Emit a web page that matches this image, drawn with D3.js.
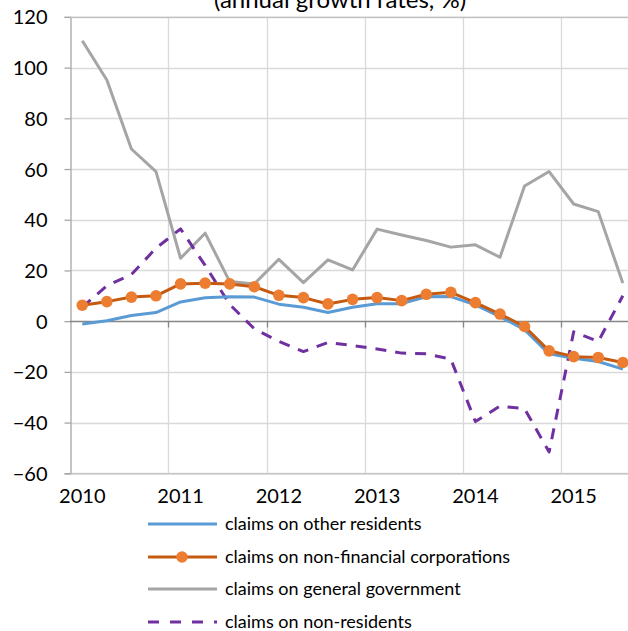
<!DOCTYPE html>
<html><head><meta charset="utf-8">
<script src="https://cdn.jsdelivr.net/npm/d3@7"></script>
<style>html,body{margin:0;padding:0;background:#fff;overflow:hidden}</style>
</head><body>
<svg id="chart" width="628" height="631"></svg>
<script>
const quarters = ["2010Q1","2010Q2","2010Q3","2010Q4","2011Q1","2011Q2","2011Q3","2011Q4","2012Q1","2012Q2","2012Q3","2012Q4","2013Q1","2013Q2","2013Q3","2013Q4","2014Q1","2014Q2","2014Q3","2014Q4","2015Q1","2015Q2","2015Q3"];
const yearLabels = ["2010","2011","2012","2013","2014","2015"];
const yTicks = [-60,-40,-20,0,20,40,60,80,100,120];
const otherResidents = [-1.1,0.2,2.2,3.4,7.6,9.2,9.6,9.5,6.7,5.5,3.4,5.5,6.9,6.9,9.6,9.7,6.4,1.8,-3.4,-12.9,-14.6,-15.9,-18.9];
const nonFinCorp = [6.3,7.7,9.5,10.0,14.7,15.0,14.7,13.6,10.2,9.3,6.8,8.6,9.3,8.1,10.6,11.4,7.3,2.8,-2.1,-11.7,-14.0,-14.3,-16.3];
const generalGov = [110.6,95.1,67.9,59.0,24.8,34.7,15.6,14.7,24.4,15.2,24.2,20.2,36.3,34.0,31.8,29.2,30.1,25.2,53.3,59.0,46.2,43.2,15.0];
const nonResidents = [5.5,14.0,18.4,28.8,36.4,22.0,6.6,-3.0,-8.0,-12.0,-8.4,-9.6,-11.0,-12.6,-12.9,-15.0,-39.6,-33.5,-34.5,-51.6,-4.2,-8.0,10.0];
const seriesNames = ["claims on other residents","claims on non-financial corporations","claims on general government","claims on non-residents"];
const titleText = "(annual growth rates, %)";

const svg = d3.select("#chart");
const font = "Lato, 'Open Sans', sans-serif";
const left = 70, step = 24.57;
const x = d3.scaleBand().domain(d3.range(quarters.length)).range([left, left + step*quarters.length]).padding(0);
const cx = i => x(i) + x.bandwidth()/2;
const y = d3.scaleLinear().domain([-60,120]).range([473.3,16.9]);
const right = 640;

// title (partially clipped at top, as in the reference)
svg.append("text").attr("x",340).attr("y",8).attr("text-anchor","middle")
  .attr("font-family",font).attr("font-size",24).attr("fill","#000").text(titleText);

// horizontal gridlines
svg.append("g").selectAll("line").data(yTicks.filter(v=>v!==0)).join("line")
  .attr("x1",left).attr("x2",right).attr("y1",d=>Math.round(y(d))+0.5).attr("y2",d=>Math.round(y(d))+0.5)
  .attr("stroke","#d9d9d9").attr("stroke-width",1.3);
// vertical gridlines every 4 quarters
const vIdx = d3.range(4, quarters.length+1, 4);
svg.append("g").selectAll("line").data(vIdx).join("line")
  .attr("x1",d=>Math.round(left+step*d)+0.5).attr("x2",d=>Math.round(left+step*d)+0.5)
  .attr("y1",y(120)).attr("y2",y(-60)).attr("stroke","#d9d9d9").attr("stroke-width",1.3);

// y axis
const yAxis = d3.axisLeft(y).tickValues(yTicks).tickSize(6).tickFormat(d3.format("d"));
const gy = svg.append("g").attr("transform",`translate(${left+0.5},0)`).call(yAxis);
gy.select(".domain").attr("stroke","#a6a6a6").attr("stroke-width",1.3);
gy.selectAll(".tick line").attr("stroke","#a6a6a6").attr("stroke-width",1.3);
gy.selectAll(".tick text").attr("font-family",font).attr("font-size",20).attr("fill","#000").attr("x",-23).attr("dy","0.35em");
// bottom and top border lines
svg.append("line").attr("x1",left).attr("x2",right).attr("y1",y(-60)+0.5).attr("y2",y(-60)+0.5).attr("stroke","#bfbfbf").attr("stroke-width",1.3);
svg.append("line").attr("x1",left).attr("x2",right).attr("y1",y(120)+0.5).attr("y2",y(120)+0.5).attr("stroke","#bfbfbf").attr("stroke-width",1.3);

// x axis line at zero with ticks
const zeroY = Math.round(y(0))+0.5;
svg.append("line").attr("x1",left).attr("x2",right).attr("y1",zeroY).attr("y2",zeroY).attr("stroke","#868686").attr("stroke-width",1.3);
svg.append("g").selectAll("line").data(vIdx).join("line")
  .attr("x1",d=>Math.round(left+step*d)+0.5).attr("x2",d=>Math.round(left+step*d)+0.5)
  .attr("y1",zeroY).attr("y2",zeroY+6).attr("stroke","#868686").attr("stroke-width",1.3);

// year labels at first quarter of each year
svg.append("g").selectAll("text").data(yearLabels).join("text")
  .attr("x",(d,i)=>cx(i*4)).attr("y",503).attr("text-anchor","middle")
  .attr("font-family",font).attr("font-size",20).attr("fill","#000").text(d=>d);

const line = d3.line().x((d,i)=>cx(i)).y(d=>y(d));
const styles = [
  {data: generalGov, color:"#a5a5a5", dash:null},
  {data: nonResidents, color:"#7030a0", dash:"11,9"},
  {data: otherResidents, color:"#5b9bd5", dash:null},
  {data: nonFinCorp, color:"#c55a11", dash:null},
];
styles.forEach(s=>{
  svg.append("path").datum(s.data).attr("d",line).attr("fill","none")
    .attr("stroke",s.color).attr("stroke-width",3).attr("stroke-linejoin","round")
    .attr("stroke-dasharray",s.dash);
});
svg.append("g").selectAll("circle").data(nonFinCorp).join("circle")
  .attr("cx",(d,i)=>cx(i)).attr("cy",d=>y(d)).attr("r",5.8).attr("fill","#ed7d31");

// legend
const legColors = ["#5b9bd5","#c55a11","#a5a5a5","#7030a0"];
const legY = [524,557,589,622];
const lg = svg.append("g");
seriesNames.forEach((n,i)=>{
  lg.append("line").attr("x1",148).attr("x2",217).attr("y1",legY[i]).attr("y2",legY[i])
    .attr("stroke",legColors[i]).attr("stroke-width",3).attr("stroke-dasharray", i===3?"11,11":null);
  if(i===1) lg.append("circle").attr("cx",182).attr("cy",legY[i]).attr("r",5.8).attr("fill","#ed7d31");
  lg.append("text").attr("x",225).attr("y",legY[i]).attr("dy","0.35em")
    .attr("font-family",font).attr("font-size",18).attr("fill","#000").text(n);
});
</script>
</body></html>
